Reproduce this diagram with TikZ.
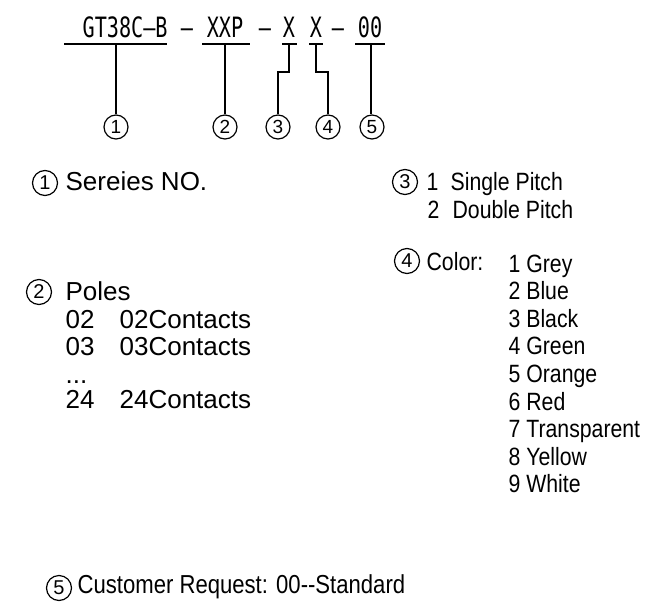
\documentclass[tikz,border=0pt]{standalone}
\usepackage{fontspec}
\setmainfont{Liberation Sans}
\newfontfamily\cadfont[FakeStretch=0.72]{DejaVu Sans Mono}
\newfontfamily\narrowfont[FakeStretch=0.85]{Liberation Sans}
\usepackage{tikz}

\begin{document}
\begin{tikzpicture}[x=1pt,y=-1pt,line width=1.3pt,
    code/.style={inner sep=0pt,anchor=base,font=\cadfont\fontsize{28}{28}\selectfont},
    num/.style={circle,draw,line width=1.2pt,inner sep=0pt,minimum size=24pt,font=\fontsize{19}{19}\selectfont},
    bignum/.style={num,minimum size=25pt,font=\fontsize{20}{20}\selectfont},
    wide/.style={inner sep=0pt,anchor=base west,font=\fontsize{26}{27}\selectfont},
    narrow/.style={inner sep=0pt,anchor=base west,font=\narrowfont\fontsize{25}{26}\selectfont}]
    \useasboundingbox (0,0) rectangle (653,608);
    % part number
    \node[code,anchor=base west] (series) at (82,37) {GT38C\textendash B};
    \node[code] (d1) at (187,37) {\textendash};
    \node[code] (poles) at (225,37) {XXP};
    \node[code] (d2) at (265,37) {\textendash};
    \node[code] (pitch) at (289,37) {X};
    \node[code] (color) at (316,37) {X};
    \node[code] (d3) at (338,37) {\textendash};
    \node[code] (req) at (370,37) {00};
    % underlines
    \coordinate (u1) at (116,44);
    \coordinate (u2) at (225,44);
    \coordinate (u3) at (289,44);
    \coordinate (u4) at (316,44);
    \coordinate (u5) at (371,44);
    \draw (64,44) -- (167,44);
    \draw (202,44) -- (250,44);
    \draw (282,44) -- (297,44);
    \draw (309,44) -- (323,44);
    \draw (355,44) -- (385,44);
    \node[num] (C1) at (116,127) {1};
    \node[num] (C2) at (225,127) {2};
    \node[num] (C3) at (278,127) {3};
    \node[num] (C4) at (328,127) {4};
    \node[num] (C5) at (372,127) {5};
    \draw (u1) -- (C1);
    \draw (u2) -- (C2);
    \draw (u3) -- ++(0,28) -| (C3);
    \draw (u4) -- ++(0,28) -| (C4);
    \draw (u5) -- (u5 |- C5.north);
    % legend
    \node[bignum] (N1) at (45,183) {1};
    \node[wide] (seriesno) at (65,190) {Sereies NO.};
    \node[bignum] (N2) at (39,292) {2};
    \node[wide] (polestxt) at (65,300) {Poles};
    \node[wide] (p02) at (65,328) {02};
    \node[wide] (p02c) at (119,328) {02Contacts};
    \node[wide] (p03) at (65,355) {03};
    \node[wide] (p03c) at (119,355) {03Contacts};
    \node[wide] (pdots) at (65,383) {...};
    \node[wide] (p24) at (65,408) {24};
    \node[wide] (p24c) at (119,408) {24Contacts};
    \node[bignum] (N3) at (405,182) {3};
    \node[narrow] (s1) at (426,190) {1};
    \node[narrow] (s1t) at (450,190) {Single Pitch};
    \node[narrow] (s2) at (427,218) {2};
    \node[narrow] (s2t) at (452,218) {Double Pitch};
    \node[bignum] (N4) at (407,261) {4};
    \node[narrow] (colortxt) at (426,270) {Color:};
    \foreach \i/\col in {1/Grey,2/Blue,3/Black,4/Green,5/Orange,6/Red,7/Transparent,8/Yellow,9/White}
      \node[narrow] (col\i) at (508,{272+27.6*(\i-1)}) {\i{} \col};
    \node[bignum] (N5) at (59,588) {5};
    \node[narrow,font=\narrowfont\fontsize{26}{26}\selectfont] (custom) at (77,593) {Customer Request: 00-{}-Standard};
\end{tikzpicture}
\end{document}
